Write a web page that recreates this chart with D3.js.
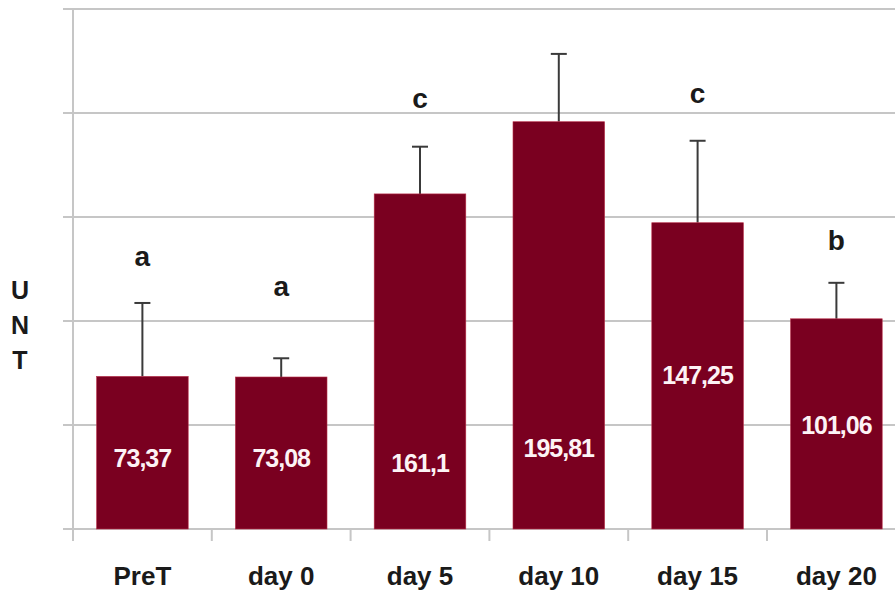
<!DOCTYPE html>
<html>
<head>
<meta charset="utf-8">
<script src="https://cdn.jsdelivr.net/npm/d3@7"></script>
<style>
  html, body { margin: 0; padding: 0; background: #fff; }
  svg { display: block; font-family: Arial, "Liberation Sans", sans-serif; }
</style>
</head>
<body>
<svg id="chart" width="895" height="596"></svg>
<script>
// Group means, standard deviations and significance letters
const categories = ["PreT", "day 0", "day 5", "day 10", "day 15", "day 20"];
const means      = [73.37, 73.08, 161.1, 195.81, 147.25, 101.06];
const meanLabels = ["73,37", "73,08", "161,1", "195,81", "147,25", "101,06"];
const sd         = [35.3, 9.0, 22.7, 32.6, 39.4, 17.3];
const groups     = ["a", "a", "c", "", "c", "b"];
const yTicks     = [0, 50, 100, 150, 200, 250];

// Where each in-bar value label and group letter sits, in axis units
const valueLabelAt = [34.3, 34.3, 31.7, 39.0, 74.0, 50.0];
const groupLabelAt = [126.4, 111.8, 202.4, 0, 204.8, 134.1];

const svg = d3.select("#chart");
const axisX = 73, baseY = 529, topY = 9;

const x = d3.scaleBand()
  .domain(categories)
  .range([axisX, axisX + 6 * 138.8])
  .paddingInner(0.34)
  .paddingOuter(0.17);

const y = d3.scaleLinear().domain([0, 250]).range([baseY, topY]);

// Horizontal gridlines with short ticks left of the axis
svg.append("g")
  .selectAll("line")
  .data(yTicks)
  .join("line")
  .attr("x1", axisX - 10).attr("x2", 895)
  .attr("y1", d => y(d)).attr("y2", d => y(d))
  .attr("stroke", "#c6c6c6").attr("stroke-width", 2);

// Vertical axis line
svg.append("line")
  .attr("x1", axisX).attr("x2", axisX)
  .attr("y1", y(250)).attr("y2", baseY + 12)
  .attr("stroke", "#c6c6c6").attr("stroke-width", 2);

// Category separators below the baseline
const step = x.step();
svg.append("g")
  .selectAll("line")
  .data(d3.range(1, categories.length + 1))
  .join("line")
  .attr("x1", i => axisX + i * step).attr("x2", i => axisX + i * step)
  .attr("y1", baseY).attr("y2", baseY + 12)
  .attr("stroke", "#c6c6c6").attr("stroke-width", 2);

// Error bars (upper half only)
const eg = svg.append("g").attr("stroke", "#3a3a3a").attr("stroke-width", 2);
categories.forEach((c, i) => {
  const cx = x(c) + x.bandwidth() / 2;
  eg.append("line")
    .attr("x1", cx).attr("x2", cx)
    .attr("y1", y(means[i])).attr("y2", y(means[i] + sd[i]));
  eg.append("line")
    .attr("x1", cx - 8).attr("x2", cx + 8)
    .attr("y1", y(means[i] + sd[i])).attr("y2", y(means[i] + sd[i]));
});

// Bars
svg.append("g")
  .selectAll("rect")
  .data(categories)
  .join("rect")
  .attr("x", d => x(d))
  .attr("width", x.bandwidth())
  .attr("y", (d, i) => y(means[i]))
  .attr("height", (d, i) => y(0) - y(means[i]))
  .attr("fill", "#7a0020")
  .attr("stroke", "#b8304a")
  .attr("stroke-width", 0.6);

// Value labels inside the bars
svg.append("g")
  .selectAll("text")
  .data(categories)
  .join("text")
  .attr("x", d => x(d) + x.bandwidth() / 2)
  .attr("y", (d, i) => y(valueLabelAt[i]))
  .attr("text-anchor", "middle")
  .attr("dominant-baseline", "central")
  .attr("fill", "#fdf3f5")
  .attr("font-size", 25)
  .attr("font-weight", "bold")
  .attr("letter-spacing", -1)
  .text((d, i) => meanLabels[i]);

// Significance letters
svg.append("g")
  .selectAll("text")
  .data(categories.filter((d, i) => groups[i] !== ""))
  .join("text")
  .attr("x", d => x(d) + x.bandwidth() / 2)
  .attr("y", d => y(groupLabelAt[categories.indexOf(d)]))
  .attr("text-anchor", "middle")
  .attr("fill", "#1a1a1a")
  .attr("font-size", 28)
  .attr("font-weight", "bold")
  .text(d => groups[categories.indexOf(d)]);

// Category labels
svg.append("g")
  .selectAll("text")
  .data(categories)
  .join("text")
  .attr("x", d => x(d) + x.bandwidth() / 2)
  .attr("y", 585)
  .attr("text-anchor", "middle")
  .attr("fill", "#1a1a1a")
  .attr("font-size", 26)
  .attr("font-weight", "bold")
  .text(d => d);

// Stacked axis title
const title = svg.append("text")
  .attr("x", 20)
  .attr("text-anchor", "middle")
  .attr("fill", "#1a1a1a")
  .attr("font-size", 25)
  .attr("font-weight", "bold");
["U", "N", "T"].forEach((ch, i) => {
  title.append("tspan").attr("x", 20).attr("y", 299 + i * 35).text(ch);
});
</script>
</body>
</html>
